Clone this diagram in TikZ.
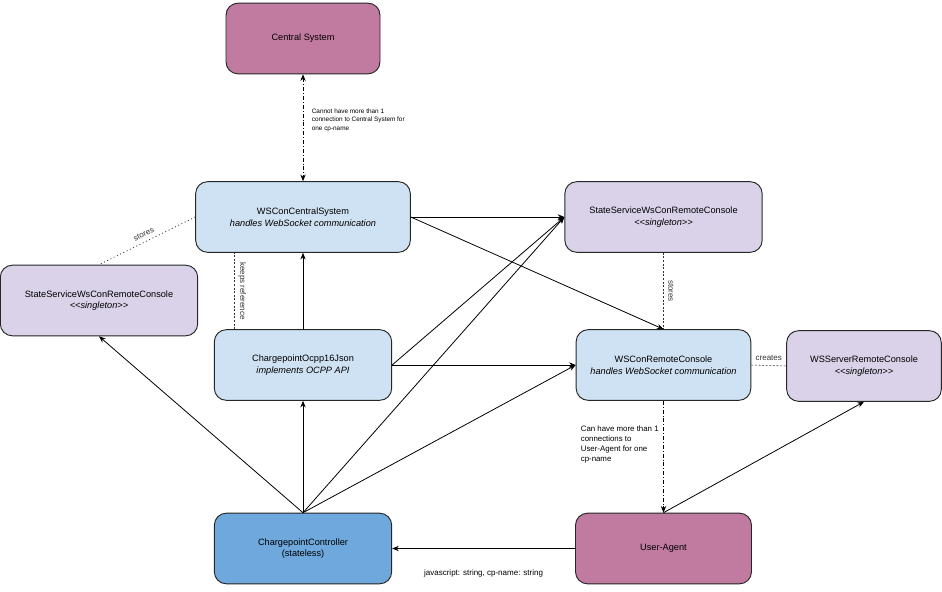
\documentclass[tikz,border=0pt]{standalone}
\usepackage{fontspec}
\setmainfont{Liberation Sans}
\usetikzlibrary{arrows.meta,positioning}
\definecolor{plum}{HTML}{C27BA0}
\definecolor{paleblue}{HTML}{CFE2F3}
\definecolor{lavender}{HTML}{D9D2E9}
\definecolor{midblue}{HTML}{6FA8DC}
\tikzset{
	box/.style={draw=black!85, rounded corners=9pt, line width=0.7pt, align=center,
		minimum height=53pt, inner sep=2pt, font=\fontsize{6.9}{8.6}\selectfont},
	actorbox/.style={box, fill=plum},
	compbox/.style={box, fill=paleblue},
	singlebox/.style={box, fill=lavender},
	ctrlbox/.style={box, fill=midblue},
	link/.style={-{Stealth[length=5pt,width=4pt]}, line width=0.6pt},
	dashdotline/.style={line width=0.6pt, dash pattern=on 3pt off 1.5pt on 0.6pt off 1.5pt},
	finedash/.style={line width=0.4pt, dash pattern=on 1.5pt off 1.2pt, black!80},
	sparsedots/.style={line width=0.6pt, dash pattern=on 0.7pt off 2pt, black!80},
	tiny/.style={font=\fontsize{6}{7.5}\selectfont},
	cslabel/.style={font=\fontsize{4.8}{6.6}\selectfont, align=left},
	ualabel/.style={font=\fontsize{5.9}{7.5}\selectfont, align=left}
}
\newcommand{\singleton}{\textit{\textless\kern0pt\textless singleton\textgreater\kern0pt\textgreater}}
\begin{document}
\begin{tikzpicture}[x=0.75pt,y=-0.75pt]
	\useasboundingbox (0,0) rectangle (942,592);
	% boxes
	\node[actorbox, minimum width=115.5pt] (cs) at (303,38.5) {Central System};
	\node[compbox, minimum width=161pt] (wscs) at (303,217) {WSConCentralSystem\\\textit{handles WebSocket communication}};
	\node[singlebox, minimum width=148pt] (ssright) at (663.5,217) {StateServiceWsConRemoteConsole\\\singleton};
	\node[singlebox, minimum width=148pt] (ssleft) at (99,300.5) {StateServiceWsConRemoteConsole\\\singleton};
	\node[compbox, minimum width=133pt] (ocpp) at (303,365) {ChargepointOcpp16Json\\\textit{implements OCPP API}};
	\node[compbox, minimum width=131pt] (wsrc) at (663.5,365) {WSConRemoteConsole\\\textit{handles WebSocket communication}};
	\node[singlebox, minimum width=116pt] (wsserver) at (864,366) {WSServerRemoteConsole\\\singleton};
	\node[ctrlbox, minimum width=133pt] (ctrl) at (303,548.5) {ChargepointController\\(stateless)};
	\node[actorbox, minimum width=132pt] (ua) at (663.5,548.5) {User-Agent};
	\coordinate (kr) at ([xshift=15pt]ocpp.north west);
	% connections
	\draw[dashdotline, {Stealth[length=5pt,width=4pt]}-{Stealth[length=5pt,width=4pt]}] (cs) -- (wscs)
		node[pos=0.43, right, xshift=3pt, cslabel] {Cannot have more than 1\\connection to Central System for\\one cp-name};
	\draw[sparsedots] (wscs.west) -- (ssleft.north) node[midway, sloped, above, tiny] {stores};
	\draw[finedash] (kr) -- (kr |- wscs.south) node[midway, rotate=-90, anchor=south, tiny] {keeps reference};
	\draw[link] (ocpp) -- (wscs);
	\draw[link] (wscs.east) -- (ssright.west);
	\draw[link] (wscs.east) -- (wsrc.north);
	\draw[link] (ocpp.east) -- (ssright.west);
	\draw[link] (ocpp.east) -- (wsrc.west);
	\draw[link] (ctrl.north) -- (ocpp.south);
	\draw[link] (ctrl.north) -- (ssleft.south);
	\draw[link] (ctrl.north) -- (ssright.west);
	\draw[link] (ctrl.north) -- (wsrc.west);
	\draw[finedash] (ssright.south) -- (wsrc.north) node[midway, rotate=-90, anchor=south, tiny] {stores};
	\draw[finedash] (wsrc.east) -- (wsserver.west) node[midway, above, tiny] {creates};
	\draw[dashdotline, -{Stealth[length=5pt,width=4pt]}] (wsrc.south) -- (ua.north)
		node[pos=0.39, left, ualabel] {Can have more than 1\\connections to\\User-Agent for one\\cp-name};
	\draw[link] (ua.north) -- (wsserver.south);
	\draw[link] (ua.west) -- (ctrl.east) node[midway, below, yshift=-12pt, tiny] {javascript: string, cp-name: string};
\end{tikzpicture}
\end{document}
